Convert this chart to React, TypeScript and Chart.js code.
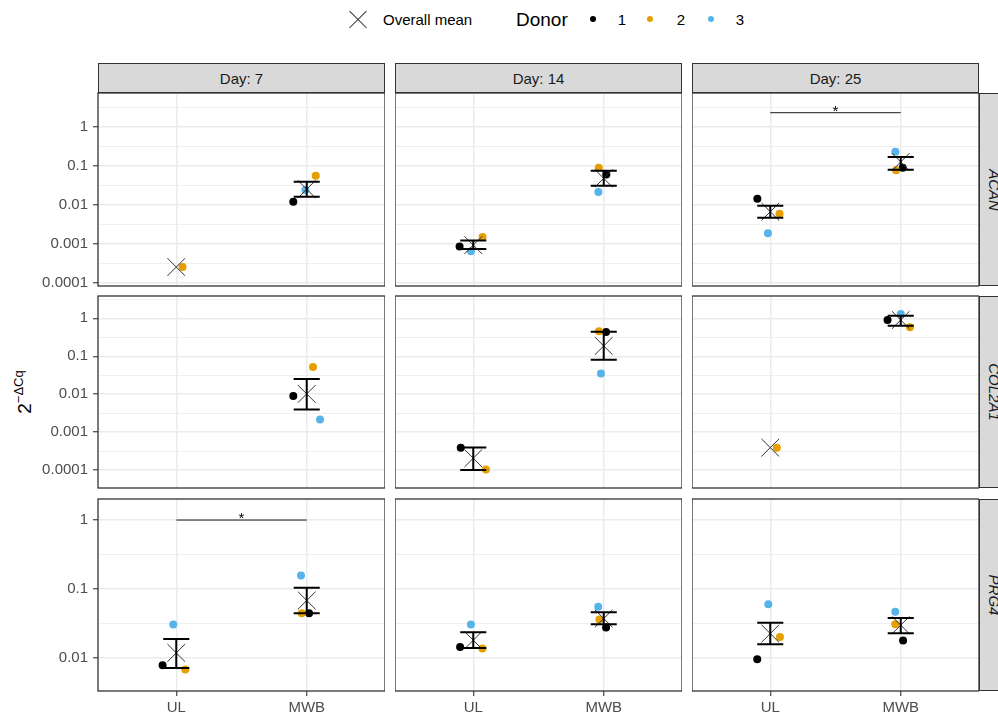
import React, { useEffect, useRef } from 'react';
import { Chart, registerables } from 'chart.js';
Chart.register(...registerables);

// ---------- data ----------
const days = ['Day: 7', 'Day: 14', 'Day: 25'];
const genes = ['ACAN', 'COL2A1', 'PRG4'];
const groups = ['UL', 'MWB'];
const donorLabels = ['1', '2', '3'];
const donorColors = ['#000000', '#E69F00', '#56B4E9'];

// values: [gene][day][UL, MWB]
const donor1 = [
  [[null, 0.0122], [8.7e-4, 0.061], [0.0145, 0.0905]],
  [[null, 0.009], [3.9e-4, 0.436], [null, 0.9]],
  [[0.0078, 0.0445], [0.0144, 0.0275], [0.0095, 0.0178]],
];
const donor2 = [
  [[2.57e-4, 0.0565], [1.51e-3, 0.0905], [0.006, 0.0775]],
  [[null, 0.0523], [1.05e-4, 0.455], [3.93e-4, 0.58]],
  [[0.00676, 0.0445], [0.0137, 0.036], [0.02, 0.0308]],
];
const donor3 = [
  [[null, 0.0243], [6.5e-4, 0.0216], [0.00188, 0.233]],
  [[null, 0.00215], [null, 0.0349], [null, 1.3]],
  [[0.0305, 0.157], [0.0305, 0.055], [0.0601, 0.0465]],
];
// horizontal jitter (category units)
const jitter1 = [
  [[0, -0.103], [-0.105, 0.02], [-0.099, 0.015]],
  [[0, -0.103], [-0.096, 0.018], [0, -0.101]],
  [[-0.105, 0.018], [-0.101, 0.018], [-0.1, 0.018]],
];
const jitter2 = [
  [[0.048, 0.069], [0.071, -0.038], [0.071, -0.036]],
  [[0, 0.048], [0.097, -0.036], [0.05, 0.071]],
  [[0.069, -0.038], [0.07, -0.033], [0.074, -0.042]],
];
const jitter3 = [
  [[0, -0.01], [-0.018, -0.041], [-0.018, -0.041]],
  [[0, 0.102], [0, -0.021], [0, 0]],
  [[-0.023, -0.044], [-0.018, -0.042], [-0.015, -0.042]],
];
// overall mean and error bar ends
const meanVals = [
  [[2.57e-4, 0.0255], [9.4e-4, 0.0483], [6.75e-3, 0.127]],
  [[null, 0.0102], [2.07e-4, 0.187], [3.93e-4, 0.9]],
  [[0.0118, 0.068], [0.018, 0.0372], [0.0225, 0.0298]],
];
const seLow = [
  [[null, 0.0163], [7.45e-4, 0.0313], [4.73e-3, 0.0805]],
  [[null, 3.94e-3], [1.02e-4, 0.0815], [null, 0.638]],
  [[7.13e-3, 0.0445], [0.0139, 0.0308], [0.0158, 0.0228]],
];
const seHigh = [
  [[null, 0.0398], [1.24e-3, 0.0759], [9.6e-3, 0.17]],
  [[null, 0.0253], [3.94e-4, 0.445], [null, 1.17]],
  [[0.0188, 0.1038], [0.0236, 0.046], [0.0322, 0.038]],
];
// y axis per gene
const yMin = [8.4e-5, 3.4e-5, 3.3e-3];
const yMax = [7.45, 3.86, 2.02];
const majorTicks = [
  [1e-4, 1e-3, 1e-2, 0.1, 1],
  [1e-4, 1e-3, 1e-2, 0.1, 1],
  [0.01, 0.1, 1],
];
const majorLabels = [
  ['0.0001', '0.001', '0.01', '0.1', '1'],
  ['0.0001', '0.001', '0.01', '0.1', '1'],
  ['0.01', '0.1', '1'],
];
// significance brackets
const sigGene = [0, 2];
const sigDay = [2, 0];
const sigY = [2.33, 1.0];
const sigText = ['*', '*'];

// ---------- layout ----------
const FONT = "'Liberation Sans', Arial, Helvetica, sans-serif";
const colLeft = [98, 395, 692];
const panelW = 287;
const rowTop = [93, 296, 499];
const rowH = [193, 192, 192];
const PAD = 14;

function buildYTicks(g: number) {
  const maj = majorTicks[g];
  const vals: number[] = [];
  const labs: string[] = [];
  const lo = Math.log10(maj[0]);
  const hi = Math.log10(maj[maj.length - 1]);
  for (let e = lo - 0.5; e <= hi + 0.5 + 1e-9; e += 0.5) {
    const v = Math.pow(10, e);
    if (v < yMin[g] || v > yMax[g]) continue;
    const mi = maj.findIndex((m) => Math.abs(Math.log10(m) - e) < 1e-6);
    vals.push(v);
    labs.push(mi >= 0 ? majorLabels[g][mi] : '');
  }
  return { vals, labs };
}

function Panel({ g, d }: { g: number; d: number }) {
  const ref = useRef<HTMLCanvasElement>(null);
  const showY = d === 0;
  const showX = g === genes.length - 1;
  const axisW = showY ? colLeft[0] : 0;
  const axisH = showX ? 26 : 0;
  const left = colLeft[d] - axisW;
  const top = rowTop[g] - PAD;
  const width = panelW + axisW;
  const height = rowH[g] + axisH + 2 * PAD;

  useEffect(() => {
    const canvas = ref.current!;
    const donorVals = [donor1, donor2, donor3];
    const jitters = [jitter1, jitter2, jitter3];
    const datasets: any[] = [];
    const sigIdx = sigGene.findIndex((sg, i) => sg === g && sigDay[i] === d);

    if (sigIdx >= 0) {
      datasets.push({
        type: 'line',
        data: [{ x: 1, y: sigY[sigIdx] }, { x: 2, y: sigY[sigIdx] }],
        borderColor: '#1a1a1a',
        borderWidth: 1,
        pointRadius: 0,
        order: 0,
      });
    }

    const eb: any[] = [];
    for (let k = 0; k < 2; k++) {
      const lo = seLow[g][d][k];
      const hi = seHigh[g][d][k];
      if (lo == null || hi == null) continue;
      const x = k + 1;
      const w = 0.1;
      eb.push(
        { x: x - w, y: hi }, { x: x + w, y: hi }, { x, y: null },
        { x, y: hi }, { x, y: lo }, { x, y: null },
        { x: x - w, y: lo }, { x: x + w, y: lo }, { x, y: null }
      );
    }
    datasets.push({
      type: 'line',
      data: eb,
      borderColor: '#000',
      borderWidth: 2,
      pointRadius: 0,
      spanGaps: false,
      borderCapStyle: 'butt',
      order: 0,
    });

    const means: any[] = [];
    for (let k = 0; k < 2; k++) {
      const m = meanVals[g][d][k];
      if (m != null) means.push({ x: k + 1, y: m });
    }
    datasets.push({
      type: 'scatter',
      data: means,
      pointStyle: 'crossRot',
      pointRadius: 12.5,
      pointBorderColor: '#333333',
      pointBorderWidth: 1,
      pointBackgroundColor: 'rgba(0,0,0,0)',
      order: 1,
    });

    for (let j = 0; j < 3; j++) {
      const data: any[] = [];
      for (let k = 0; k < 2; k++) {
        const v = donorVals[j][g][d][k];
        if (v != null) data.push({ x: k + 1 + jitters[j][g][d][k], y: v });
      }
      datasets.push({
        type: 'scatter',
        label: donorLabels[j],
        data,
        pointRadius: 4,
        pointBorderWidth: 0,
        pointBackgroundColor: donorColors[j],
        pointBorderColor: donorColors[j],
        order: 2 + (2 - j),
      });
    }

    const { vals, labs } = buildYTicks(g);

    const deco = {
      id: 'deco',
      afterDatasetsDraw(chart: any) {
        const { ctx, chartArea: a, scales } = chart;
        if (sigIdx >= 0) {
          ctx.save();
          ctx.font = `15px ${FONT}`;
          ctx.fillStyle = '#000';
          ctx.textAlign = 'center';
          ctx.textBaseline = 'alphabetic';
          ctx.fillText(
            sigText[sigIdx],
            scales.x.getPixelForValue(1.5),
            scales.y.getPixelForValue(sigY[sigIdx]) + 3
          );
          ctx.restore();
        }
        ctx.save();
        ctx.strokeStyle = '#333333';
        ctx.lineWidth = 1.3;
        ctx.strokeRect(a.left, a.top, a.right - a.left, a.bottom - a.top);
        ctx.restore();
      },
    };

    const chart = new Chart(canvas, {
      type: 'scatter',
      data: { datasets },
      options: {
        animation: false,
        responsive: false,
        maintainAspectRatio: false,
        devicePixelRatio: 1,
        events: [],
        layout: { autoPadding: false, padding: { top: PAD, bottom: PAD, left: 0, right: 0 } },
        plugins: { legend: { display: false }, tooltip: { enabled: false } },
        scales: {
          x: {
            type: 'linear',
            min: 0.4,
            max: 2.6,
            bounds: 'data',
            afterBuildTicks: (s: any) => {
              s.ticks = groups.map((_, i) => ({ value: i + 1 }));
            },
            afterFit: (s: any) => {
              s.height = axisH;
              s.paddingLeft = 0;
              s.paddingRight = 0;
            },
            ticks: {
              display: showX,
              autoSkip: false,
              maxRotation: 0,
              padding: 3,
              color: '#4D4D4D',
              font: { family: FONT, size: 15 },
              callback: (v: any) => groups[Math.round(v) - 1],
            },
            grid: {
              color: '#EBEBEB',
              lineWidth: 1.5,
              drawTicks: showX,
              tickLength: 5,
              tickColor: '#333333',
              tickWidth: 1.1,
            },
            border: { display: false },
          },
          y: {
            type: 'logarithmic',
            min: yMin[g],
            max: yMax[g],
            bounds: 'data',
            afterBuildTicks: (s: any) => {
              s.ticks = vals.map((v) => ({ value: v }));
            },
            afterFit: (s: any) => {
              s.width = axisW;
              s.paddingTop = 0;
              s.paddingBottom = 0;
            },
            ticks: {
              display: showY,
              autoSkip: false,
              padding: 5,
              color: '#4D4D4D',
              font: { family: FONT, size: 15 },
              callback: (_v: any, i: number) => labs[i],
            },
            grid: {
              color: '#EBEBEB',
              lineWidth: (c: any) => (labs[c.index] ? 1.5 : 0.75),
              drawTicks: showY,
              tickLength: 5,
              tickColor: (c: any) => (labs[c.index] ? '#333333' : 'rgba(0,0,0,0)'),
              tickWidth: 1.1,
            },
            border: { display: false },
          },
        },
      } as any,
      plugins: [deco],
    } as any);
    return () => chart.destroy();
  }, []);

  return (
    <canvas
      ref={ref}
      width={width}
      height={height}
      style={{ position: 'absolute', left, top, width, height }}
    />
  );
}

export default function App() {
  const panels: any[] = [];
  genes.forEach((_, g) => days.forEach((__, d) => panels.push(<Panel key={`${g}-${d}`} g={g} d={d} />)));
  const legendDots = [593, 650, 711];
  const legendLabelX = [622, 681, 740];
  return (
    <div
      style={{
        position: 'absolute',
        left: 0,
        top: 0,
        width: 998,
        height: 717,
        overflow: 'hidden',
        background: '#fff',
        fontFamily: FONT,
      }}
    >
      {/* legend */}
      <div style={{ position: 'absolute', left: 349, top: 11, width: 17, height: 17 }}>
        <div style={{ position: 'absolute', left: -3.5, top: 8, width: 24, height: 1.2, background: '#333', transform: 'rotate(45deg)' }} />
        <div style={{ position: 'absolute', left: -3.5, top: 8, width: 24, height: 1.2, background: '#333', transform: 'rotate(-45deg)' }} />
      </div>
      <div style={{ position: 'absolute', left: 383, top: 19, transform: 'translateY(-50%)', fontSize: 15, lineHeight: '17px', color: '#000', whiteSpace: 'nowrap' }}>
        Overall mean
      </div>
      <div style={{ position: 'absolute', left: 516, top: 19, transform: 'translateY(-50%)', fontSize: 19, lineHeight: '21px', color: '#000', whiteSpace: 'nowrap' }}>
        Donor
      </div>
      {donorLabels.map((lab, j) => (
        <React.Fragment key={lab}>
          <div style={{ position: 'absolute', left: legendDots[j] - 3.3, top: 19 - 3.3, width: 6.6, height: 6.6, borderRadius: '50%', background: donorColors[j] }} />
          <div style={{ position: 'absolute', left: legendLabelX[j], top: 19, transform: 'translate(-50%,-50%)', fontSize: 15, lineHeight: '17px', color: '#000' }}>
            {lab}
          </div>
        </React.Fragment>
      ))}

      {/* y axis title */}
      <div
        style={{
          position: 'absolute',
          left: 26,
          top: 392,
          transform: 'translate(-50%,-50%) rotate(-90deg)',
          whiteSpace: 'nowrap',
          fontSize: 19,
          lineHeight: '22px',
          color: '#000',
        }}
      >
        2<span style={{ fontSize: 13, position: 'relative', top: -8 }}>−ΔCq</span>
      </div>

      {/* top strips */}
      {days.map((day, d) => (
        <div
          key={day}
          style={{
            position: 'absolute',
            left: colLeft[d],
            top: 63,
            width: panelW,
            height: 30,
            boxSizing: 'border-box',
            background: '#D9D9D9',
            border: '1.3px solid #333333',
            display: 'flex',
            alignItems: 'center',
            justifyContent: 'center',
            fontSize: 15,
            color: '#1A1A1A',
          }}
        >
          {day}
        </div>
      ))}

      {/* right strips */}
      {genes.map((gene, g) => (
        <div
          key={gene}
          style={{
            position: 'absolute',
            left: colLeft[2] + panelW,
            top: rowTop[g],
            width: 30,
            height: rowH[g],
            boxSizing: 'border-box',
            background: '#D9D9D9',
            border: '1.3px solid #333333',
          }}
        >
          <div
            style={{
              position: 'absolute',
              left: '50%',
              top: '50%',
              transform: 'translate(-50%,-50%) rotate(90deg)',
              fontSize: 15,
              fontStyle: 'italic',
              color: '#1A1A1A',
              whiteSpace: 'nowrap',
            }}
          >
            {gene}
          </div>
        </div>
      ))}

      {panels}
    </div>
  );
}
